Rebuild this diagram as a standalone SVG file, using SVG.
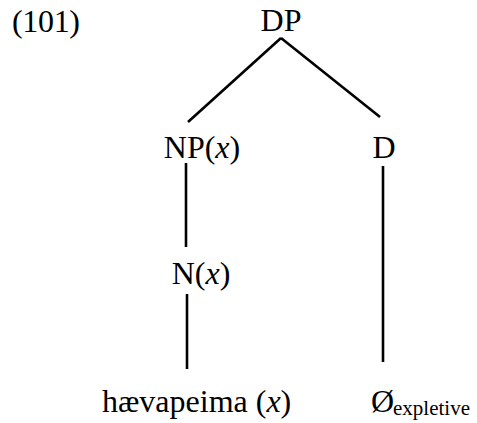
<svg xmlns="http://www.w3.org/2000/svg" width="477" height="423" viewBox="0 0 477 423">
<style>
text{font-family:"Liberation Serif","Times New Roman",serif;font-size:32px;fill:#000}
.sub{font-size:21px}
line{stroke:#000;stroke-width:2.6}
</style>
<rect width="477" height="423" fill="#fff"/>
<text x="12" y="32" textLength="68">(101)</text>
<g id="connectors">
<line x1="281" y1="38" x2="188" y2="122"/>
<line x1="281" y1="38" x2="380" y2="117"/>
<line x1="186" y1="163" x2="186" y2="247"/>
<line x1="383" y1="166" x2="383" y2="362"/>
<line x1="187" y1="294" x2="187" y2="369"/>
</g>
<g id="DP"><text x="281" y="31" text-anchor="middle">DP</text></g>
<g id="NP"><text x="202" y="158" text-anchor="middle">NP(<tspan font-style="italic">x</tspan>)</text></g>
<g id="D"><text x="384" y="158" text-anchor="middle">D</text></g>
<g id="N"><text x="201" y="284" text-anchor="middle">N(<tspan font-style="italic">x</tspan>)</text></g>
<g id="haevapeima"><text x="102" y="412">hævapeima (<tspan font-style="italic">x</tspan>)</text></g>
<g id="empty"><text x="371" y="412">Ø</text><text class="sub" x="393" y="415" textLength="77">expletive</text></g>
</svg>
